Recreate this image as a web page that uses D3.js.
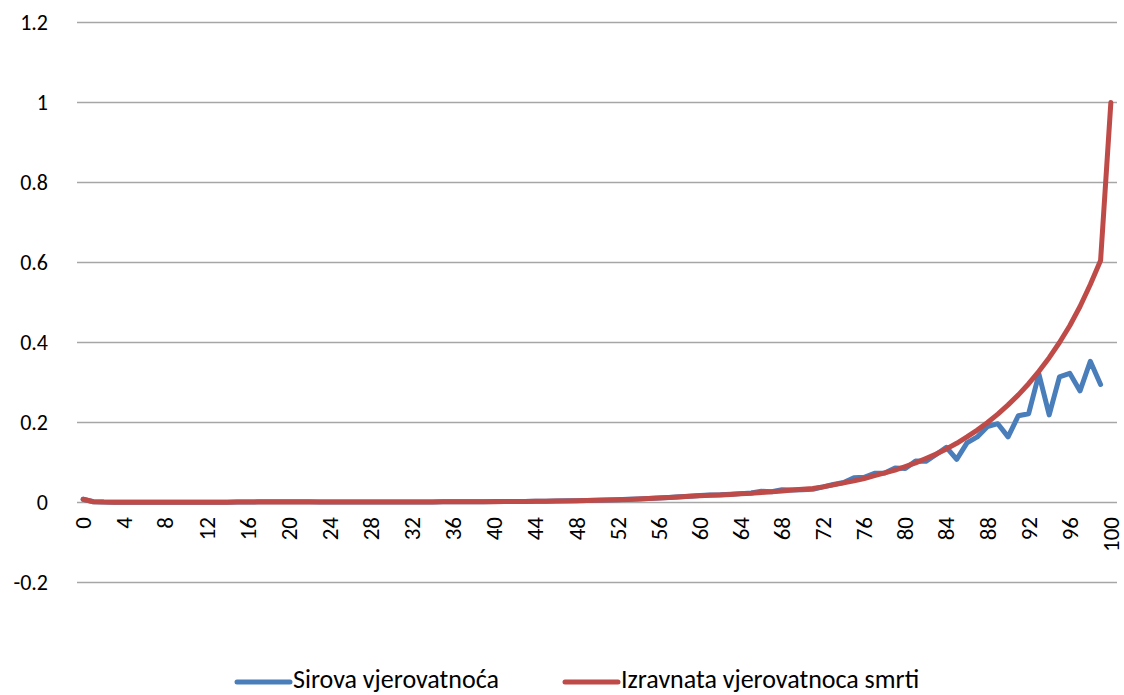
<!DOCTYPE html>
<meta charset="utf-8">
<style>
body { margin: 0; background: #fff; }
text { font-family: Carlito, Lato, "Open Sans", sans-serif; fill: #000; }
.grid line { stroke: #a6a6a6; stroke-width: 1.5px; }
.line { fill: none; stroke-width: 5px; stroke-linejoin: round; stroke-linecap: round; }
</style>
<svg width="1124" height="695"></svg>
<script src="https://cdn.jsdelivr.net/npm/d3@7"></script>
<script>

var svg = d3.select("svg");

// ages 0..100
var ages = d3.range(0, 101);

var yTicks = [-0.2, 0, 0.2, 0.4, 0.6, 0.8, 1, 1.2];
var xTickLabels = [0, 4, 8, 12, 16, 20, 24, 28, 32, 36, 40, 44, 48, 52, 56, 60, 64, 68, 72, 76, 80, 84, 88, 92, 96, 100];

// raw probability, ages 0..99
var raw = [
  0.008, 0.002, 0.001, 0.0008, 0.0008, 0.0007, 0.0008, 0.0007, 0.0008, 0.0008,
  0.0008, 0.0007, 0.0008, 0.0009, 0.0009, 0.0011, 0.0013, 0.0016, 0.0018, 0.0019,
  0.0019, 0.0017, 0.0016, 0.0015, 0.0014, 0.0014, 0.0013, 0.0013, 0.0013, 0.0012,
  0.0012, 0.0013, 0.0012, 0.0014, 0.0015, 0.0016, 0.0017, 0.0019, 0.0019, 0.0021,
  0.0022, 0.0024, 0.0026, 0.0028, 0.0031, 0.0034, 0.0037, 0.0041, 0.0046, 0.0051,
  0.0056, 0.0063, 0.0071, 0.0079, 0.0089, 0.0099, 0.0112, 0.0126, 0.0141, 0.0157,
  0.0172, 0.0185, 0.0192, 0.0205, 0.0222, 0.0238, 0.028, 0.027, 0.032, 0.031,
  0.032, 0.033, 0.039, 0.045, 0.05, 0.062, 0.063, 0.073, 0.074, 0.086,
  0.085, 0.104, 0.103, 0.12, 0.138, 0.108, 0.149, 0.164, 0.19, 0.197,
  0.164, 0.217, 0.222, 0.321, 0.219, 0.314, 0.323, 0.279, 0.353, 0.295
];

// smoothed probability, ages 0..100
var smooth = [
  0.008, 0.002, 0.001, 0.0008, 0.0008, 0.0008, 0.0008, 0.0008, 0.0008, 0.0008,
  0.0008, 0.0008, 0.0008, 0.0009, 0.0009, 0.001, 0.001, 0.001, 0.0011, 0.0011,
  0.0011, 0.0011, 0.0012, 0.0012, 0.0012, 0.0012, 0.0012, 0.0012, 0.0012, 0.0012,
  0.0012, 0.0013, 0.0013, 0.0014, 0.0015, 0.0016, 0.0017, 0.0018, 0.0019, 0.002,
  0.0021, 0.0023, 0.0025, 0.0027, 0.003, 0.0033, 0.0036, 0.004, 0.0045, 0.005,
  0.0055, 0.0062, 0.007, 0.0078, 0.0088, 0.0098, 0.011, 0.0125, 0.014, 0.0155,
  0.017, 0.018, 0.019, 0.02, 0.022, 0.023, 0.025, 0.027, 0.029, 0.031,
  0.033, 0.035, 0.039, 0.044, 0.049, 0.054, 0.06, 0.067, 0.074, 0.081,
  0.09, 0.099, 0.11, 0.121, 0.134, 0.148, 0.164, 0.181, 0.2, 0.221,
  0.244, 0.269, 0.297, 0.328, 0.362, 0.4, 0.442, 0.49, 0.545, 0.605,
  1.0
];

var seriesNames = ["Sirova vjerovatnoća", "Izravnata vjerovatnoca smrti"];
var colors = ["#4a7ebb", "#be4b48"];

var x = d3.scalePoint()
    .domain(ages)
    .range([78, 1116])
    .padding(0.5);

var y = d3.scaleLinear()
    .domain([-0.2, 1.2])
    .range([582.5, 22.5]);

// gridlines
svg.append("g")
    .attr("class", "grid")
  .selectAll("line")
  .data(yTicks)
  .enter().append("line")
    .attr("x1", 77)
    .attr("x2", 1117)
    .attr("y1", function(d) { return y(d); })
    .attr("y2", function(d) { return y(d); });

// y labels
svg.append("g")
  .selectAll("text")
  .data(yTicks)
  .enter().append("text")
    .attr("x", 48)
    .attr("y", function(d) { return y(d); })
    .attr("dy", "0.35em")
    .attr("text-anchor", "end")
    .style("font-size", "22px")
    .text(function(d) { return d; });

// x labels, rotated
svg.append("g")
  .selectAll("text")
  .data(xTickLabels)
  .enter().append("text")
    .attr("transform", function(d) { return "translate(" + x(d) + ",517) rotate(-90)"; })
    .attr("dy", "0.35em")
    .attr("text-anchor", "end")
    .style("font-size", "23px")
    .text(function(d) { return d; });

var line = d3.line()
    .x(function(d, i) { return x(i); })
    .y(function(d) { return y(d); });

svg.append("path")
    .attr("class", "line")
    .attr("stroke", colors[0])
    .attr("d", line(raw));

svg.append("path")
    .attr("class", "line")
    .attr("stroke", colors[1])
    .attr("d", line(smooth));

// legend
var legendX = [237, 565];
var leg = svg.append("g")
  .selectAll("g")
  .data(seriesNames)
  .enter().append("g")
    .attr("transform", function(d, i) { return "translate(" + legendX[i] + ",682)"; });

leg.append("line")
    .attr("x1", 0).attr("x2", 53)
    .attr("stroke", function(d, i) { return colors[i]; })
    .attr("stroke-width", 5)
    .attr("stroke-linecap", "round");

leg.append("text")
    .attr("x", 56)
    .attr("y", 6)
    .style("font-size", "26px")
    .text(function(d) { return d; });

</script>
